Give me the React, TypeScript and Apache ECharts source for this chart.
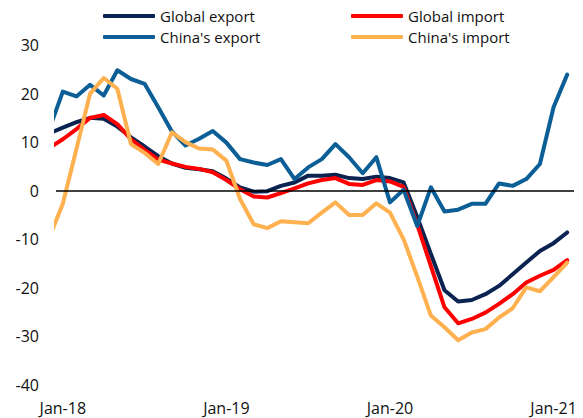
import React, { useEffect, useRef } from "react";
import * as echarts from "echarts";

const months = [
  "Dec-17",
  "Jan-18", "Feb-18", "Mar-18", "Apr-18", "May-18", "Jun-18", "Jul-18", "Aug-18", "Sep-18", "Oct-18", "Nov-18", "Dec-18",
  "Jan-19", "Feb-19", "Mar-19", "Apr-19", "May-19", "Jun-19", "Jul-19", "Aug-19", "Sep-19", "Oct-19", "Nov-19", "Dec-19",
  "Jan-20", "Feb-20", "Mar-20", "Apr-20", "May-20", "Jun-20", "Jul-20", "Aug-20", "Sep-20", "Oct-20", "Nov-20", "Dec-20",
  "Jan-21", "Feb-21",
];

const tickLabels = ["Jan-18", "Jan-19", "Jan-20", "Jan-21"];

const globalExport = [11.8, 13.0, 14.1, 15.0, 14.8, 13.2, 11.0, 9.1, 7.1, 5.6, 4.7, 4.4, 4.0, 2.5, 0.7, -0.2, -0.1, 1.0, 1.7, 3.1, 3.1, 3.3, 2.6, 2.4, 2.9, 2.6, 1.7, -5.4, -13.0, -20.5, -22.8, -22.5, -21.3, -19.6, -17.2, -14.8, -12.4, -10.8, -8.6];
const globalImport = [8.8, 10.6, 12.7, 15.0, 15.6, 13.7, 10.6, 8.4, 6.4, 5.6, 4.9, 4.5, 3.8, 2.2, 0.3, -1.2, -1.4, -0.5, 0.5, 1.5, 2.2, 2.6, 1.4, 1.2, 2.2, 1.9, 0.8, -7.0, -15.5, -24.0, -27.3, -26.4, -25.1, -23.3, -21.3, -18.9, -17.5, -16.3, -14.3];
const chinaExport = [12.6, 20.4, 19.4, 21.8, 19.6, 24.8, 23.0, 22.0, 17.2, 12.2, 9.3, 10.7, 12.3, 9.9, 6.5, 5.8, 5.3, 6.5, 2.4, 4.8, 6.5, 9.6, 6.9, 3.6, 6.9, -2.4, 0.2, -7.3, 0.7, -4.3, -3.9, -2.7, -2.7, 1.5, 1.0, 2.4, 5.5, 17.2, 23.9];
const chinaImport = [-9.7, -2.7, 8.6, 20.0, 23.2, 21.0, 9.6, 7.8, 5.5, 12.0, 10.0, 8.7, 8.5, 6.2, -1.7, -6.9, -7.7, -6.3, -6.5, -6.7, -4.5, -2.4, -5.0, -5.0, -2.6, -4.5, -10.0, -17.7, -25.7, -28.1, -30.8, -29.2, -28.5, -26.1, -24.2, -19.9, -20.7, -17.8, -14.8];

const FONT = "'Open Sans', 'Noto Sans', sans-serif";
const BASE = months.indexOf("Jan-18");

function toPoints(values: number[]) {
  return values.map((v, i) => [i - BASE, v]);
}

export default function App() {
  const ref = useRef<HTMLDivElement>(null);

  useEffect(() => {
    if (!ref.current) return;
    const chart = echarts.init(ref.current, undefined, { renderer: "svg" });
    const tickValues = tickLabels.map((l) => months.indexOf(l) - BASE);

    const mkSeries = (name: string, values: number[], color: string) => ({
      name,
      type: "line",
      data: toPoints(values),
      symbol: "none",
      clip: true,
      lineStyle: { color, width: 4, cap: "round", join: "round" },
      itemStyle: { color },
    });

    const legendCommon = {
      orient: "vertical",
      top: 3,
      icon: "roundRect",
      itemWidth: 52,
      itemHeight: 4,
      itemGap: 5,
      textStyle: { fontFamily: FONT, fontSize: 15, color: "#111", lineHeight: 16 },
    };

    chart.setOption({
      animation: false,
      backgroundColor: "#fff",
      grid: { left: 56, right: 9, top: 45, bottom: 33 },
      legend: [
        { ...legendCommon, left: 98, data: ["Global export", "China's export"] },
        { ...legendCommon, left: 346, data: ["Global import", "China's import"] },
      ],
      xAxis: {
        type: "value",
        min: -0.5,
        max: months.length - 1 - BASE + 0.5,
        axisLine: { show: false },
        axisTick: { show: false },
        splitLine: { show: false },
        axisLabel: {
          customValues: tickValues,
          formatter: (v: number) => months[Math.round(v) + BASE],
          fontFamily: FONT,
          fontSize: 16,
          color: "#111",
          margin: 15,
        },
      },
      yAxis: {
        type: "value",
        min: -40,
        max: 30,
        interval: 10,
        axisLine: { show: false },
        axisTick: { show: false },
        splitLine: { show: false },
        axisLabel: { fontFamily: FONT, fontSize: 16, color: "#111", margin: 17 },
      },
      series: [
        {
          name: "zero",
          type: "line",
          data: [],
          z: 1,
          markLine: {
            silent: true,
            symbol: "none",
            label: { show: false },
            lineStyle: { color: "#000", width: 1.5, type: "solid" },
            data: [{ yAxis: 0 }],
          },
        },
        mkSeries("Global export", globalExport, "#0A2351"),
        mkSeries("Global import", globalImport, "#FF0000"),
        mkSeries("China's export", chinaExport, "#0B5E96"),
        mkSeries("China's import", chinaImport, "#FFB04F"),
      ],
    });

    return () => chart.dispose();
  }, []);

  return (
    <div
      ref={ref}
      style={{ position: "fixed", left: 0, top: 0, width: 583, height: 418, background: "#fff" }}
    />
  );
}
